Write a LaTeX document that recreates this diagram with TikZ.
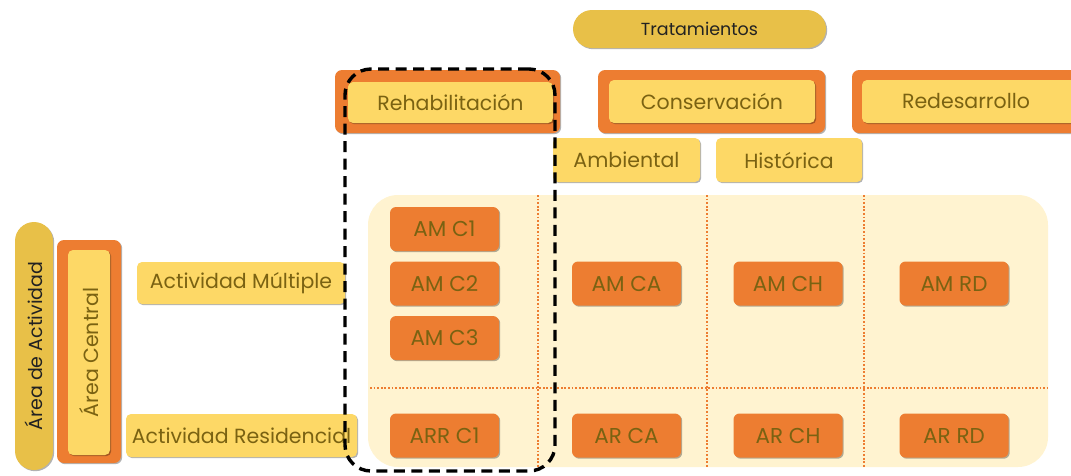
\documentclass[tikz,border=0pt]{standalone}
\usepackage{fontspec}
\setmainfont{Poppins}
\usetikzlibrary{shadows}
\definecolor{orng}{HTML}{ED7D31}
\definecolor{ylw}{HTML}{FDD866}
\definecolor{gold}{HTML}{E8C048}
\definecolor{cream}{HTML}{FFF3D0}
\definecolor{olive}{HTML}{7A6212}
\definecolor{ink}{HTML}{222222}
\tikzset{
  shd/.style={drop shadow={shadow xshift=1.2pt,shadow yshift=-1.2pt,opacity=.3,fill=black}},
  outerbox/.style={fill=orng,rounded corners=7pt,inner sep=0pt,shd},
  innerbox/.style={fill=ylw,rounded corners=5pt,inner sep=0pt,text=olive,font=\fontsize{20.5}{22}\selectfont,shd},
  pillbox/.style={fill=gold,rounded corners=19pt,inner sep=0pt,text=ink,font=\fontsize{17.5}{19}\selectfont,shd},
  cell/.style={fill=orng,rounded corners=6pt,inner sep=0pt,minimum width=109pt,minimum height=44pt,text=olive,font=\fontsize{21.5}{23}\selectfont,shd},
  dotline/.style={orng,line width=1.8pt,dash pattern=on 1.8pt off 1.8pt},
  selbox/.style={draw=black,line width=3.4pt,dash pattern=on 11pt off 6.5pt,rounded corners=26pt,inner sep=0pt}
}
\begin{document}
\begin{tikzpicture}[x=1pt,y=-1pt]
\useasboundingbox (0,0) rectangle (1071,475);
\clip (0,0) rectangle (1071,475);
% header
\node[pillbox,minimum width=253pt,minimum height=38pt] (trat) at (699.5,29) {Tratamientos};
\node[outerbox,minimum width=225pt,minimum height=63pt] (rehabO) at (447.5,101.5) {};
\node[innerbox,minimum width=205pt,minimum height=41pt] (rehab) at (450.5,102.5) {Rehabilitación};
\node[outerbox,minimum width=227pt,minimum height=63pt] (consO) at (711.5,101.5) {};
\node[innerbox,minimum width=206pt,minimum height=43pt] (cons) at (712,101.5) {Conservación};
\node[outerbox,minimum width=228pt,minimum height=63pt] (redO) at (966,101.5) {};
\node[innerbox,minimum width=215pt,minimum height=43pt] (red) at (969.5,101.5) {};
\node[text=olive,font=\fontsize{20.5}{22}\selectfont] (redt) at (966,101.5) {Redesarrollo};
\node[innerbox,minimum width=147pt,minimum height=44pt] (amb) at (626.5,160) {Ambiental};
\node[innerbox,minimum width=146pt,minimum height=44pt] (hist) at (789,160) {Histórica};
% matrix background
\node[fill=cream,rounded corners=30pt,minimum width=680pt,minimum height=272pt,inner sep=0pt] (bg) at (708,331) {};
\coordinate (v1t) at (538,195); \coordinate (v1b) at (538,467);
\coordinate (v2t) at (707,195); \coordinate (v2b) at (707,467);
\coordinate (v3t) at (864,195); \coordinate (v3b) at (864,467);
\coordinate (hl) at (370,388); \coordinate (hr) at (1048,388);
\draw[dotline] (v1t) -- (v1b);
\draw[dotline] (v2t) -- (v2b);
\draw[dotline] (v3t) -- (v3b);
\draw[dotline] (hl) -- (hr);
% cells
\node[cell] (amc1) at (444.5,229) {AM C1};
\node[cell] (amc2) at (444.5,283.5) {AM C2};
\node[cell] (amc3) at (444.5,338) {AM C3};
\node[cell] (arrc1) at (444.5,435.5) {ARR C1};
\node[cell] (amca) at (626.5,283.5) {AM CA};
\node[cell] (amch) at (788,283.5) {AM CH};
\node[cell] (amrd) at (954,283.5) {AM RD};
\node[cell] (arca) at (626.5,435.5) {AR CA};
\node[cell] (arch) at (788,435.5) {AR CH};
\node[cell] (arrd) at (954,435.5) {AR RD};
% left side
\node[pillbox,rotate=90,minimum width=248pt,minimum height=38pt,font=\fontsize{19}{21}\selectfont] (aa) at (34,346) {Área de Actividad};
\node[outerbox,minimum width=64pt,minimum height=223pt] (acO) at (89,351.5) {};
\node[innerbox,rotate=90,minimum width=205pt,minimum height=42pt] (ac) at (89,352.5) {Área Central};
\node[innerbox,minimum width=208pt,minimum height=42pt] (actm) at (241,283) {Actividad Múltiple};
\node[innerbox,minimum width=231pt,minimum height=43pt] (actr) at (241.5,435.5) {Actividad Residencial};
% selection
\node[selbox,minimum width=210pt,minimum height=402pt] (sel) at (450,270) {};
\end{tikzpicture}
\end{document}
